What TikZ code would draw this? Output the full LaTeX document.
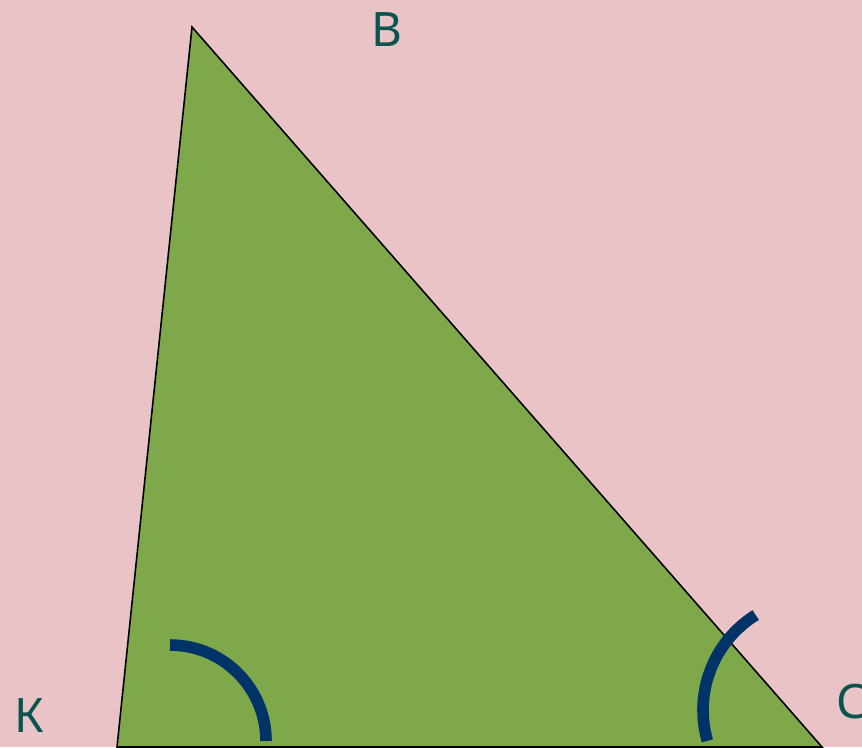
\documentclass[tikz,border=0pt]{standalone}
\usepackage{fontspec}
\setmainfont{Noto Sans}
\usetikzlibrary{calc}
\definecolor{bgpink}{RGB}{233,195,197}
\definecolor{trigreen}{RGB}{126,168,74}
\definecolor{arcblue}{RGB}{0,52,104}
\definecolor{labteal}{RGB}{8,84,78}

\begin{document}
\begin{tikzpicture}[x=0.01cm, y=0.01cm,
	every node/.style={font=\fontsize{13.5}{16}\selectfont, text=labteal, inner sep=0pt},
	anglemark/.style={arcblue, line width=3.3pt}]
	\useasboundingbox (0,0) rectangle (862,747);
	\fill[bgpink] (0,0) rectangle (862,747);
	\coordinate (B) at (192,720);
	\coordinate (K) at (117,0);
	\coordinate (C) at (822,0);
	\filldraw[fill=trigreen, draw=black, line width=0.45pt] (K) -- (B) -- (C) -- cycle;
	\draw[anglemark] (170,102) arc (90:0:96);
	\draw[anglemark] ($(815,37)+(122:112)$) arc (122:196:112);
	\node (labB) at (387,717) {В};
	\node (labK) at (29,31) {К};
	\node (labC) at (852,45) {С};
\end{tikzpicture}
\end{document}
